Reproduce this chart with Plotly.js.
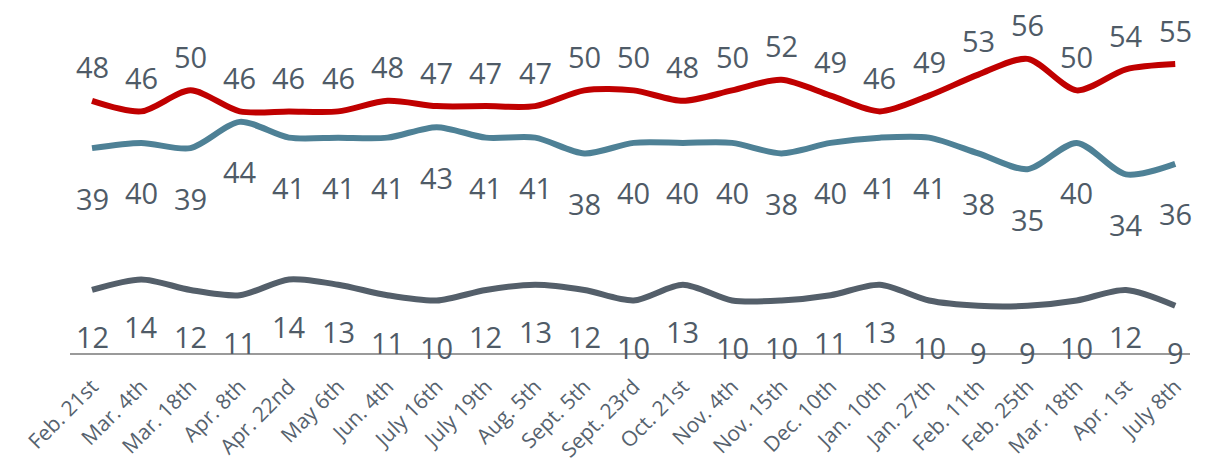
<!DOCTYPE html>
<html>
<head>
<meta charset="utf-8">
<script src="https://cdn.plot.ly/plotly-3.0.1.min.js"></script>
<style>html,body{margin:0;padding:0;background:#fff;}#chart{width:1211px;height:468px;}</style>
</head>
<body>
<div id="chart"></div>
<script>
const categories = ["Feb. 21st","Mar. 4th","Mar. 18th","Apr. 8th","Apr. 22nd","May 6th","Jun. 4th","July 16th","July 19th","Aug. 5th","Sept. 5th","Sept. 23rd","Oct. 21st","Nov. 4th","Nov. 15th","Dec. 10th","Jan. 10th","Jan. 27th","Feb. 11th","Feb. 25th","Mar. 18th","Apr. 1st","July 8th"];
const seriesRed  = [48,46,50,46,46,46,48,47,47,47,50,50,48,50,52,49,46,49,53,56,50,54,55];
const seriesTeal = [39,40,39,44,41,41,41,43,41,41,38,40,40,40,38,40,41,41,38,35,40,34,36];
const seriesGrey = [12,14,12,11,14,13,11,10,12,13,12,10,13,10,10,11,13,10,9,9,10,12,9];

const colors = {red:"#c00000", teal:"#4e8196", grey:"#545f6a"};
const labelColor = "#4f5b67";
const labelFont = {family:"Open Sans, Noto Sans, sans-serif", size:29, color:labelColor};

const xs = categories.map((c,i)=>i);
function lineTrace(vals, color){
  return {x:xs, y:vals, type:"scatter", mode:"lines", line:{color:color, width:6, shape:"spline", smoothing:0.8}, hoverinfo:"skip", showlegend:false};
}
const traces = [lineTrace(seriesRed, colors.red), lineTrace(seriesTeal, colors.teal), lineTrace(seriesGrey, colors.grey)];

const annotations = [];
function addLabels(vals, shift){
  vals.forEach((v,i)=>annotations.push({x:i, y:v, xref:"x", yref:"y", text:String(v), showarrow:false, yshift:shift, yanchor:"middle", font:labelFont}));
}
addLabels(seriesRed, 34);
addLabels(seriesTeal, -50);
addLabels(seriesGrey, -47);

const layout = {
  width:1211, height:468,
  margin:{l:70, r:21, t:10, b:115},
  paper_bgcolor:"#fff", plot_bgcolor:"#fff",
  showlegend:false,
  xaxis:{range:[-0.447,22.30], tickvals:xs, ticktext:categories, tickangle:-45, showgrid:false, zeroline:false,
         showline:true, linecolor:"#9a9a9a", linewidth:2, ticks:"", ticklabelstandoff:11, tickfont:{family:"Open Sans, Noto Sans, sans-serif", size:21, color:"#56626e"}, fixedrange:true},
  yaxis:{range:[0,65.3], visible:false, showgrid:false, zeroline:false, fixedrange:true},
  annotations:annotations
};
Plotly.newPlot("chart", traces, layout, {displayModeBar:false, staticPlot:true});
</script>
</body>
</html>
